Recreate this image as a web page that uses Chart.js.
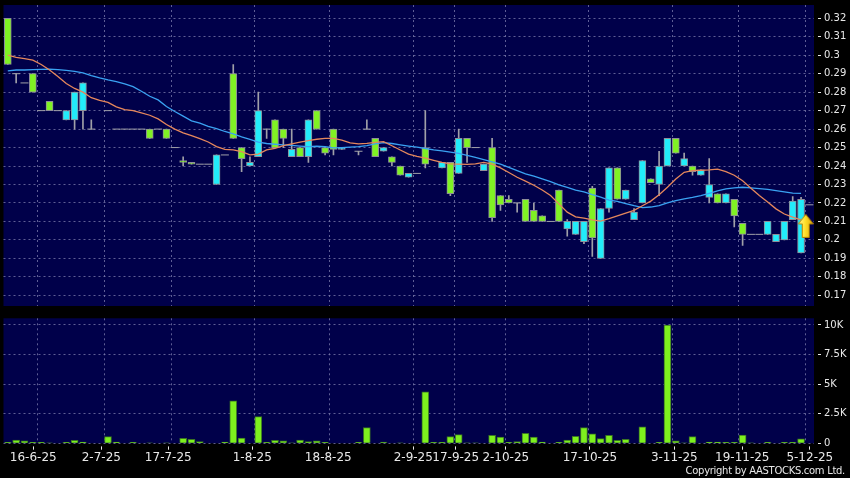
<!DOCTYPE html>
<html>
<head>
<meta charset="utf-8">
<script src="https://cdn.jsdelivr.net/npm/chart.js@4/dist/chart.umd.min.js"></script>
<style>
  html, body { margin: 0; padding: 0; background: #000; }
  #wrap { position: relative; width: 850px; height: 478px; overflow: hidden; background: #000; }
  #price { position: absolute; left: 0; top: 0; }
  #vol { position: absolute; left: 0; top: 312px; }
  #copy { position: absolute; right: 5px; top: 465px; font: 10px "DejaVu Sans", sans-serif; letter-spacing: -0.3px; color: #e8e8e8; white-space: nowrap; }
</style>
</head>
<body>
<div id="wrap">
  <canvas id="price" width="850" height="312"></canvas>
  <canvas id="vol" width="850" height="166"></canvas>
  <div id="copy">Copyright by AASTOCKS.com Ltd.</div>
</div>
<script>
// one slot per trading session, left to right
const openPx = [0.295,0.29,0.285,0.28,0.27,0.27,0.27,0.27,0.28,0.285,
  0.26,null,0.27,0.26,0.26,0.26,0.26,0.255,0.26,0.255,
  0.25,0.242,0.241,0.241,0.241,0.246,0.246,0.255,0.244,0.242,
  0.27,0.26,0.25,0.255,0.249,0.245,0.265,0.26,0.247,0.249,
  0.25,null,0.248,0.26,0.245,0.25,0.242,0.235,0.236,0.236,
  0.241,null,0.242,0.225,0.255,0.25,0.25,0.241,0.212,0.219,
  0.22,0.22,0.21,0.21,0.21,0.21,0.21,0.21,0.21,0.21,
  0.201,0.217,0.239,0.222,0.227,0.215,0.243,0.231,0.24,0.255,
  0.247,0.244,0.237,0.238,0.23,0.22,0.225,0.213,0.203,0.203,
  0.203,0.21,0.203,0.21,0.221,0.222,0.219];
const highPx = [0.32,0.29,0.285,0.29,0.27,0.275,0.27,0.27,0.28,0.285,
  0.265,null,0.27,0.26,0.26,0.26,0.26,0.26,0.26,0.26,
  0.25,0.245,0.242,0.241,0.241,0.246,0.246,0.295,0.25,0.245,
  0.28,0.26,0.265,0.26,0.26,0.25,0.265,0.27,0.25,0.26,
  0.25,null,0.248,0.265,0.255,0.25,0.245,0.24,0.236,0.236,
  0.27,null,0.242,0.242,0.26,0.255,0.25,0.241,0.255,0.224,
  0.224,0.22,0.222,0.22,0.213,0.21,0.227,0.211,0.21,0.21,
  0.229,0.217,0.239,0.239,0.227,0.217,0.243,0.233,0.248,0.255,
  0.255,0.247,0.24,0.238,0.244,0.225,0.225,0.222,0.209,0.203,
  0.203,0.21,0.203,0.21,0.2235,0.223,0.219];
const lowPx = [0.295,0.285,0.285,0.28,0.27,0.27,0.27,0.265,0.26,0.26,
  0.26,null,0.27,0.26,0.26,0.26,0.26,0.255,0.26,0.255,
  0.25,0.24,0.241,0.241,0.241,0.23,0.246,0.255,0.237,0.24,
  0.245,0.255,0.25,0.25,0.245,0.245,0.242,0.26,0.246,0.246,
  0.249,null,0.246,0.26,0.245,0.248,0.24,0.235,0.234,0.236,
  0.239,null,0.239,0.224,0.236,0.242,0.25,0.2375,0.21,0.216,
  0.22,0.215,0.21,0.21,0.21,0.21,0.21,0.202,0.203,0.198,
  0.191,0.19,0.215,0.222,0.222,0.211,0.22,0.231,0.224,0.24,
  0.247,0.24,0.235,0.235,0.22,0.22,0.22,0.207,0.197,0.203,
  0.203,0.203,0.199,0.2,0.211,0.193,0.219];
const closePx = [0.32,0.29,0.285,0.29,0.27,0.275,0.27,0.265,0.265,0.27,
  0.26,null,0.27,0.26,0.26,0.26,0.26,0.26,0.26,0.26,
  0.25,0.243,0.242,0.241,0.241,0.23,0.246,0.29,0.25,0.24,
  0.245,0.26,0.265,0.26,0.245,0.25,0.245,0.27,0.25,0.26,
  0.249,null,0.248,0.26,0.255,0.248,0.245,0.24,0.234,0.236,
  0.25,null,0.239,0.242,0.236,0.255,0.25,0.2375,0.25,0.224,
  0.222,0.22,0.222,0.216,0.213,0.21,0.227,0.206,0.203,0.199,
  0.228,0.19,0.217,0.239,0.222,0.211,0.22,0.233,0.23,0.24,
  0.255,0.24,0.24,0.235,0.223,0.225,0.22,0.222,0.209,0.203,
  0.203,0.203,0.199,0.2,0.211,0.193,0.219];
const maShort = [0.300,0.2988,0.2982,0.2973,0.2950,0.2920,0.2885,0.2847,0.2820,0.2800,
  0.2770,0.2755,0.2745,0.2720,0.2705,0.2700,0.2688,0.2675,0.2655,0.2625,
  0.2600,0.2580,0.2565,0.2548,0.2530,0.2505,0.2490,0.2487,0.2478,0.2460,
  0.2465,0.2487,0.2495,0.2510,0.2520,0.2530,0.2538,0.2545,0.2550,0.2550,
  0.2540,0.2525,0.2520,0.2523,0.2528,0.2532,0.2510,0.2487,0.2465,0.2452,
  0.2443,0.2431,0.2420,0.2412,0.2410,0.2409,0.2412,0.2420,0.2410,0.2390,
  0.2365,0.2339,0.2318,0.2296,0.2270,0.2240,0.2195,0.2150,0.2125,0.2118,
  0.2108,0.2102,0.2115,0.2130,0.2145,0.2160,0.2185,0.2210,0.2245,0.2285,
  0.2330,0.2366,0.2375,0.2377,0.2379,0.2383,0.2370,0.2350,0.2320,0.2280,
  0.2240,0.2205,0.2168,0.2140,0.2123,0.2109,null];
const maLong = [0.2915,0.2920,0.2920,0.2922,0.2923,0.2925,0.2922,0.2918,0.2912,0.2905,
  0.2890,0.2877,0.2866,0.2857,0.2845,0.2830,0.2805,0.2778,0.2758,0.2722,
  0.2695,0.2670,0.2645,0.2632,0.2615,0.2602,0.2587,0.2574,0.2558,0.2544,
  0.2530,0.2522,0.2518,0.2514,0.2512,0.2508,0.2505,0.2507,0.2505,0.2498,
  0.2500,0.2502,0.2505,0.2510,0.2520,0.2527,0.2522,0.2515,0.2508,0.2502,
  0.2495,0.2487,0.2482,0.2475,0.2468,0.2458,0.2447,0.2435,0.2423,0.2410,
  0.2393,0.2375,0.2358,0.2345,0.2330,0.2315,0.2298,0.2285,0.2270,0.2260,
  0.2245,0.2232,0.2215,0.2208,0.2197,0.2185,0.2175,0.2178,0.2186,0.2200,
  0.2213,0.2222,0.2230,0.2240,0.2252,0.2265,0.2276,0.2282,0.2285,0.2282,
  0.2278,0.2273,0.2267,0.2260,0.2253,0.2252,null];
const volume = [80,280,200,80,80,30,0,80,250,110,
  0,0,560,110,0,80,0,50,0,30,
  0,420,340,140,0,0,110,3600,450,0,
  2250,80,250,200,50,280,140,200,80,0,
  0,0,80,1320,0,100,0,30,0,0,
  4350,80,80,560,730,50,50,0,670,530,
  80,140,840,530,110,0,80,280,590,1320,
  790,390,670,250,340,0,1400,0,80,10000,
  200,30,560,0,110,110,80,80,700,30,
  0,80,0,80,80,370,0];

const priceTicks = [0.17,0.18,0.19,0.2,0.21,0.22,0.23,0.24,0.25,0.26,0.27,0.28,0.29,0.3,0.31,0.32];
const volTicks = [0, 2500, 5000, 7500, 10000];
const volTickLabels = ["0", "2.5K", "5K", "7.5K", "10K"];
const dateLabels = ["16-6-25","2-7-25","17-7-25","1-8-25","18-8-25","2-9-25","17-9-25","2-10-25","17-10-25","3-11-25","19-11-25","5-12-25"];
const dateSlots = [3.05, 11.2, 19.22, 29.28, 38.38, 48.56, 53.64, 59.64, 69.72, 79.82, 87.96, 96.05];
const gridSlots = [3.53, 11.56, 19.63, 29.52, 38.5, 48.56, 53.47, 59.63, 69.52, 79.58, 87.49, 95.51];
const lastArrow = [{ x: 95.56, y: 0.2076 }];

const PANEL = "#00004a";
const GRID = "rgba(125,125,175,0.75)";
const TXT = "#e8e8e8";
const GREEN = "#80f224";
const CYAN = "#22ecfa";
const EDGE = "#8e8e98";
const WICK = "#a0a0a8";
const ORANGE = "#e5875c";
const BLUE = "#3aa2f2";
const VOLGREEN = "#7ef01e";
const VOLEDGE = "#3a7424";
const X_MIN = -0.515, X_MAX = 96.55;

Chart.defaults.font.family = "'DejaVu Sans', sans-serif";

const panelBg = {
  id: "panelBg",
  beforeDraw(chart) {
    const { ctx, chartArea: a } = chart;
    ctx.save();
    ctx.fillStyle = PANEL;
    ctx.fillRect(a.left, a.top, a.right - a.left, a.bottom - a.top);
    ctx.restore();
  }
};

function makeArrow() {
  const c = document.createElement("canvas");
  c.width = 16; c.height = 24;
  const g = c.getContext("2d");
  g.beginPath();
  g.moveTo(8, 0.5); g.lineTo(15.5, 10); g.lineTo(11.5, 10); g.lineTo(11.5, 23.5);
  g.lineTo(4.5, 23.5); g.lineTo(4.5, 10); g.lineTo(0.5, 10); g.closePath();
  const grad = g.createLinearGradient(0, 0, 16, 0);
  grad.addColorStop(0, "#fff9a8"); grad.addColorStop(0.45, "#ffe22e"); grad.addColorStop(1, "#e0a400");
  g.fillStyle = grad; g.fill();
  g.strokeStyle = "#b58300"; g.lineWidth = 1; g.stroke();
  return c;
}

function gridAxis() {
  return {
    type: "linear", min: X_MIN, max: X_MAX, position: "bottom", offset: false,
    afterBuildTicks: (s) => { s.ticks = gridSlots.map(v => ({ value: v })); },
    afterFit: (s) => { s.height = 0; s.paddingLeft = 0; s.paddingRight = 0; },
    ticks: { display: false },
    grid: { color: GRID, drawTicks: false, offset: false },
    border: { display: false, dash: [2, 3] }
  };
}

// right-hand value axis: fixed width, no extra vertical padding for labels
function fitRight(s) {
  s.width = 36;
  s.paddingTop = 0;
  s.paddingBottom = 0;
}

const slots = openPx.map((_, i) => i);
const bodies = slots.filter(i => openPx[i] !== null && openPx[i] !== closePx[i])
  .map(i => ({ x: i, y: [Math.min(openPx[i], closePx[i]), Math.max(openPx[i], closePx[i])], up: closePx[i] > openPx[i] }));
const wicks = slots.filter(i => highPx[i] !== null && highPx[i] > lowPx[i])
  .map(i => ({ x: i, y: [lowPx[i], highPx[i]] }));
const flats = slots.filter(i => openPx[i] !== null && openPx[i] === closePx[i])
  .map(i => ({ x: i, y: openPx[i] }));

new Chart(document.getElementById("price"), {
  type: "bar",
  data: {
    datasets: [
      { type: "line", data: lastArrow, pointStyle: makeArrow(), pointRadius: 8, showLine: false, order: 0 },
      { type: "line", data: slots.map(i => ({ x: i, y: maShort[i] })), borderColor: ORANGE, borderWidth: 1.3, pointRadius: 0, tension: 0, order: 1 },
      { type: "line", data: slots.map(i => ({ x: i, y: maLong[i] })), borderColor: BLUE, borderWidth: 1.3, pointRadius: 0, tension: 0, order: 1 },
      { type: "line", data: flats, showLine: false, pointStyle: "line", pointRadius: 4, pointBorderColor: WICK, pointBorderWidth: 1, order: 2 },
      { type: "bar", data: bodies, barThickness: 7, grouped: false, borderWidth: 1, borderSkipped: false, borderColor: EDGE,
        backgroundColor: (c) => (c.raw && c.raw.up ? GREEN : CYAN), order: 3 },
      { type: "bar", data: wicks, barThickness: 1, grouped: false, borderWidth: 0, backgroundColor: WICK, order: 4 }
    ]
  },
  options: {
    responsive: false, animation: false, devicePixelRatio: 1, events: [],
    layout: { autoPadding: false, padding: { top: 5, left: 3.5, right: 0, bottom: 6 } },
    plugins: { legend: { display: false }, tooltip: { enabled: false } },
    scales: {
      x: gridAxis(),
      y: {
        position: "right", min: 0.1642, max: 0.3272,
        afterBuildTicks: (s) => { s.ticks = priceTicks.map(v => ({ value: v })); },
        afterFit: fitRight,
        ticks: { color: TXT, font: { size: 10 }, padding: 3, callback: (v) => String(Number(v.toFixed(2))) },
        grid: { color: GRID, tickColor: TXT, tickLength: 7, tickBorderDash: [0, 4, 3, 50] },
        border: { display: false, dash: [2, 3] }
      }
    }
  },
  plugins: [panelBg]
});

new Chart(document.getElementById("vol"), {
  type: "bar",
  data: {
    datasets: [
      { data: slots.map(i => ({ x: i, y: volume[i] || null })), barThickness: 7, grouped: false,
        backgroundColor: VOLGREEN, borderColor: VOLEDGE, borderWidth: 1 }
    ]
  },
  options: {
    responsive: false, animation: false, devicePixelRatio: 1, events: [],
    layout: { autoPadding: false, padding: { top: 6.3, left: 3.5, right: 0, bottom: 0 } },
    plugins: { legend: { display: false }, tooltip: { enabled: false } },
    scales: {
      x: gridAxis(),
      xl: {
        type: "linear", min: X_MIN, max: X_MAX, position: "bottom", offset: false,
        afterBuildTicks: (s) => { s.ticks = dateSlots.map(v => ({ value: v })); },
        afterFit: (s) => { s.height = 34.7; s.paddingLeft = 0; s.paddingRight = 0; },
        ticks: { autoSkip: false, maxRotation: 0, minRotation: 0, color: TXT, font: { size: 12 }, padding: 0,
          callback: (v, i) => dateLabels[i] },
        grid: { drawOnChartArea: false, offset: false, tickColor: TXT, tickLength: 7, tickBorderDash: [0, 3.4, 3.3, 50] },
        border: { display: false }
      },
      y: {
        position: "right", min: 0, max: 10566,
        afterBuildTicks: (s) => { s.ticks = volTicks.map(v => ({ value: v })); },
        afterFit: fitRight,
        ticks: { color: TXT, font: { size: 10 }, padding: 3, callback: (v, i) => volTickLabels[i] },
        grid: { color: GRID, tickColor: TXT, tickLength: 7, tickBorderDash: [0, 4, 3, 50] },
        border: { display: false, dash: [2, 3] }
      }
    }
  },
  plugins: [panelBg]
});
</script>
</body>
</html>
